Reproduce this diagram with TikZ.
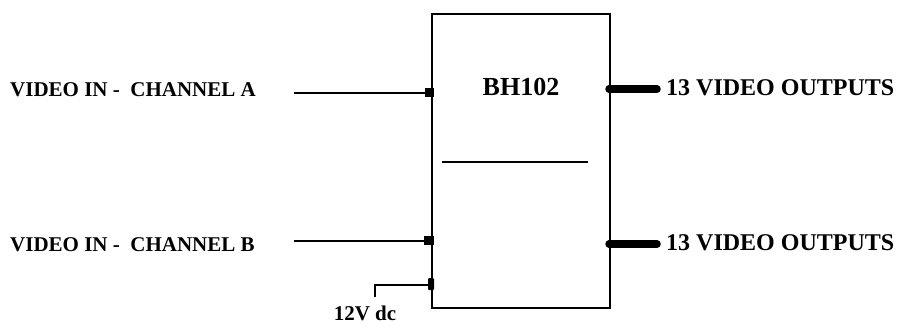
\documentclass[tikz,border=0pt]{standalone}
\usepackage{fontspec}
\setmainfont{Liberation Serif}
\begin{document}
\begin{tikzpicture}[x=1pt,y=-1pt,
  lbl/.style={inner sep=0pt, font=\bfseries\fontsize{21}{21}\selectfont},
  outlbl/.style={inner sep=0pt, font=\bfseries\fontsize{24}{24}\selectfont},
  wire/.style={line width=1.5pt},
  bus/.style={line width=7.5pt},
  pin/.style={fill=black, inner sep=0pt}]
\useasboundingbox (0,0) rectangle (901,325);
% main block
\node[draw, line width=2pt, inner sep=0pt, minimum width=178pt, minimum height=294pt, anchor=north west] (box) at (431,13) {};
\node[inner sep=0pt, font=\bfseries\fontsize{26}{26}\selectfont, anchor=base] (title) at (521,95) {BH102};
\coordinate (divL) at (442,162);
\coordinate (divR) at (588,162);
\draw[wire] (divL) -- (divR);
% inputs
\node[lbl, anchor=base west] (labA) at (10,96.5) {VIDEO IN -\ \ CHANNEL A};
\node[lbl, anchor=base west] (labB) at (10,251.5) {VIDEO IN -\ \ CHANNEL B};
\coordinate (inA) at (294,93);
\coordinate (inB) at (294,241);
\draw[wire] (inA) -- (box.west |- inA);
\draw[wire] (inB) -- (box.west |- inB);
\node[pin, minimum width=8.5pt, minimum height=8.5pt] (pinA) at (429.5,92.5) {};
\node[pin, minimum width=10pt, minimum height=9pt] (pinB) at (428.5,240.5) {};
% power
\node[lbl, anchor=base] (pwr) at (365,320.5) {12V dc};
\coordinate (pwrEnd) at (375,297);
\coordinate (pwrCorner) at (375,285);
\draw[wire] (pwrEnd) -- (pwrCorner) -- (box.west |- pwrCorner);
\node[pin, minimum width=6pt, minimum height=12pt, rounded corners=1pt] (pinP) at (431,284) {};
% outputs
\node[outlbl, anchor=base west] (outA) at (666,95) {13 VIDEO OUTPUTS};
\node[outlbl, anchor=base west] (outB) at (666,250) {13 VIDEO OUTPUTS};
\coordinate (oA) at (657,89);
\coordinate (oB) at (657,244);
\draw[bus, line cap=round] (box.east |- oA) ++(-2,0) -- (oA);
\draw[bus, line cap=round] (box.east |- oB) ++(-2,0) -- (oB);
\end{tikzpicture}
\end{document}
